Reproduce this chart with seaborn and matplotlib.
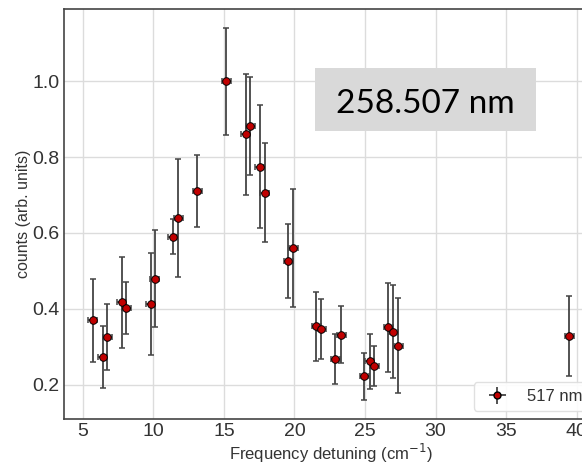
import numpy as np
import pandas as pd
import matplotlib
matplotlib.use("Agg")
import matplotlib.pyplot as plt
import seaborn as sns
from matplotlib.patches import Rectangle

# ---- data ----
detuning = [5.69, 6.42, 6.72, 7.77, 8.07, 9.80, 10.11, 11.37, 11.77, 13.11,
            15.16, 16.54, 16.87, 17.53, 17.89, 19.56, 19.91, 21.56, 21.91,
            22.90, 23.30, 24.93, 25.33, 25.64, 26.65, 27.00, 27.34, 39.49]
counts = [0.370, 0.273, 0.327, 0.417, 0.402, 0.413, 0.480, 0.590, 0.640, 0.711,
          1.000, 0.860, 0.882, 0.774, 0.706, 0.526, 0.560, 0.354, 0.346,
          0.267, 0.332, 0.222, 0.262, 0.249, 0.352, 0.340, 0.303, 0.328]
counts_err = [0.110, 0.082, 0.087, 0.120, 0.069, 0.134, 0.128, 0.046, 0.155, 0.095,
              0.141, 0.159, 0.130, 0.162, 0.131, 0.097, 0.155, 0.090, 0.079,
              0.066, 0.075, 0.062, 0.073, 0.053, 0.117, 0.123, 0.125, 0.106]
detuning_err = [0.32] * len(detuning)
series_label = "517 nm"
annotation = "258.507 nm"

df = pd.DataFrame({"x": detuning, "y": counts, "yerr": counts_err, "xerr": detuning_err})

sns.set_theme(style="whitegrid")
plt.rcParams["font.family"] = ["Liberation Sans", "DejaVu Sans"]

fig = plt.figure(figsize=(5.82, 4.63), dpi=100)
W, H = 582, 463
ax = fig.add_axes([64 / W, (H - 419) / H, (598 - 64) / W, (419 - 9) / H])

ax.errorbar(df["x"], df["y"], yerr=df["yerr"], xerr=df["xerr"], fmt="none",
            ecolor="#444444", elinewidth=1.3, capsize=2.2, capthick=1.1, zorder=2)
sns.scatterplot(data=df, x="x", y="y", ax=ax, color="#c00000", edgecolor="black",
                linewidth=0.7, s=30, zorder=3, legend=False)
# legend proxy (errorbar handle)
ax.errorbar([], [], yerr=[], xerr=[], fmt="o", color="#444444", ecolor="#444444",
            mfc="#c00000", mec="black", ms=5, capsize=2.2, elinewidth=1.3,
            label=series_label)

ax.set_xlim(3.67, 41.51)
ax.set_ylim(0.110, 1.190)
ax.set_xticks([5, 10, 15, 20, 25, 30, 35, 40])
ax.set_yticks([0.2, 0.4, 0.6, 0.8, 1.0])
ax.tick_params(axis="both", labelsize=14, colors="#333333", length=0, pad=3)
ax.set_xlabel("Frequency detuning (cm$^{-1}$)", fontsize=12, color="#333333", labelpad=1)
ax.set_ylabel("counts (arb. units)", fontsize=11.5, color="#333333", labelpad=1)
ax.grid(True, color="#dcdcdc", linewidth=1.0)
for s in ax.spines.values():
    s.set_color("#444444")
    s.set_linewidth(1.2)

leg = ax.legend(loc="lower right", fontsize=12, frameon=True, framealpha=0.9,
                edgecolor="#dddddd", fancybox=True)
for t in leg.get_texts():
    t.set_color("#333333")

# grey annotation box
fig.patches.append(Rectangle((315 / W, (H - 131) / H), (536 - 315) / W, (131 - 68) / H,
                             transform=fig.transFigure, facecolor="#d9d9d9",
                             edgecolor="none", zorder=5))
fig.text(425 / W, (H - 113.3) / H, annotation, ha="center", va="baseline",
         fontsize=24, family=["Lato", "DejaVu Sans"], color="black", zorder=6)

fig.savefig("out.png", dpi=100)
